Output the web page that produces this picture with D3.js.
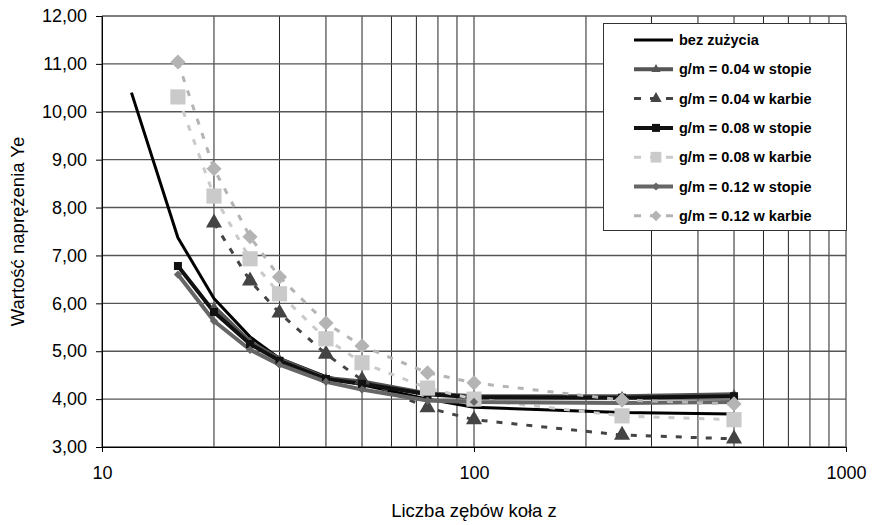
<!DOCTYPE html>
<html>
<head>
<meta charset="utf-8">
<script src="https://cdn.jsdelivr.net/npm/d3@7"></script>
<style>
  body { margin: 0; background: #fff; }
  text { font-family: "Liberation Sans", Arial, sans-serif; }
</style>
</head>
<body>
<svg width="872" height="525"></svg>
<script>
// data
const zAll = [12, 16, 20, 25, 30, 40, 50, 75, 100, 250, 500];
const zFrom16 = [16, 20, 25, 30, 40, 50, 75, 100, 250, 500];
const zFrom20 = [20, 25, 30, 40, 50, 75, 100, 250, 500];

const bezZuzycia = [10.4, 7.37, 6.1, 5.3, 4.85, 4.47, 4.3, 4.0, 3.83, 3.72, 3.69];
const g004stopa = [5.93, 5.2, 4.84, 4.44, 4.37, 4.12, 4.06, 4.06, 4.1];
const g004karb = [7.68, 6.47, 5.8, 4.94, 4.4, 3.82, 3.57, 3.25, 3.17];
const g008stopa = [6.78, 5.82, 5.15, 4.8, 4.42, 4.32, 4.1, 4.04, 4.03, 4.06];
const g008karb = [10.31, 8.24, 6.93, 6.2, 5.26, 4.76, 4.23, 4.0, 3.65, 3.57];
const g012stopa = [6.6, 5.63, 5.03, 4.72, 4.36, 4.2, 3.97, 3.94, 3.92, 3.94];
const g012karb = [11.04, 8.81, 7.39, 6.55, 5.59, 5.11, 4.55, 4.34, 3.98, 3.9];

const yTicks = [3, 4, 5, 6, 7, 8, 9, 10, 11, 12];
const xLabels = [10, 100, 1000];

const series = [
  { name: "bez zużycia", x: zAll, y: bezZuzycia, color: "#000", width: 3, dash: null, marker: null },
  { name: "g/m = 0.04 w stopie", x: zFrom20, y: g004stopa, color: "#555", width: 4, dash: null, marker: "triangle", size: 36 },
  { name: "g/m = 0.04 w karbie", x: zFrom20, y: g004karb, color: "#444", width: 3, dash: "6,9", marker: "triangle", size: 112 },
  { name: "g/m = 0.08 w stopie", x: zFrom16, y: g008stopa, color: "#111", width: 4, dash: null, marker: "square", size: 64 },
  { name: "g/m = 0.08 w karbie", x: zFrom16, y: g008karb, color: "#cacaca", width: 3, dash: "6,9", marker: "square", size: 230 },
  { name: "g/m = 0.12 w stopie", x: zFrom16, y: g012stopa, color: "#666", width: 4, dash: null, marker: "diamond", size: 34 },
  { name: "g/m = 0.12 w karbie", x: zFrom16, y: g012karb, color: "#b4b4b4", width: 3, dash: "6,9", marker: "diamond", size: 115 }
];

const svg = d3.select("svg");
const mLeft = 102, mRight = 846, mTop = 16, mBottom = 447;

const x = d3.scaleLog().domain([10, 1000]).range([mLeft, mRight]);
const y = d3.scaleLinear().domain([3, 12]).range([mBottom, mTop]);

const pl = d3.formatLocale({ decimal: ",", thousands: " ", grouping: [3], currency: ["", " zł"] });
const fmt = pl.format(".2f");

// gridlines
const grid = svg.append("g");
const vTicks = d3.range(1, 11).map(d => d * 10).concat(d3.range(2, 11).map(d => d * 100));
grid.selectAll("line.v").data(vTicks).enter().append("line")
  .attr("x1", d => x(d)).attr("x2", d => x(d))
  .attr("y1", mTop).attr("y2", mBottom)
  .attr("stroke", "#222").attr("stroke-width", 1);
grid.selectAll("line.h").data(yTicks).enter().append("line")
  .attr("x1", mLeft).attr("x2", mRight)
  .attr("y1", d => y(d)).attr("y2", d => y(d))
  .attr("stroke", "#555").attr("stroke-width", 1.4);

// axes
svg.append("g")
  .attr("transform", `translate(${mLeft},0)`)
  .call(d3.axisLeft(y).tickValues(yTicks).tickFormat(fmt).tickSize(6).tickPadding(9))
  .call(g => g.selectAll("text").attr("font-size", 18).attr("fill", "#000"))
  .call(g => g.select(".domain").attr("stroke", "#000"));

svg.append("g")
  .attr("transform", `translate(0,${mBottom})`)
  .call(d3.axisBottom(x).tickValues(xLabels).tickFormat(d3.format("d")).tickSize(5).tickPadding(14))
  .call(g => g.selectAll("text").attr("font-size", 18).attr("fill", "#000"))
  .call(g => g.select(".domain").attr("stroke", "#000"));

// axis titles
svg.append("text")
  .attr("transform", `translate(24,${(mTop + mBottom) / 2}) rotate(-90)`)
  .attr("text-anchor", "middle")
  .attr("font-size", 18.5)
  .text("Wartość naprężenia Ye");

svg.append("text")
  .attr("x", 474).attr("y", 517)
  .attr("text-anchor", "middle")
  .attr("font-size", 18.5)
  .text("Liczba zębów koła z");

// series
const symbolType = { triangle: d3.symbolTriangle, square: d3.symbolSquare, diamond: d3.symbolSquare };
const line = d3.line().x(d => x(d[0])).y(d => y(d[1]));

const plot = svg.append("g");
series.forEach(s => {
  const pts = s.x.map((v, i) => [v, s.y[i]]);
  plot.append("path")
    .attr("d", line(pts))
    .attr("fill", "none")
    .attr("stroke", s.color)
    .attr("stroke-width", s.width)
    .attr("stroke-dasharray", s.dash)
    .attr("stroke-linejoin", "round");
});
series.forEach(s => {
  if (!s.marker) return;
  const pts = s.x.map((v, i) => [v, s.y[i]]);
  const rot = s.marker === "diamond" ? " rotate(45)" : "";
  plot.selectAll(null).data(pts).enter().append("path")
    .attr("transform", d => `translate(${x(d[0])},${y(d[1])})${rot}`)
    .attr("d", d3.symbol().type(symbolType[s.marker]).size(s.size))
    .attr("fill", s.color);
});

// legend
const lg = svg.append("g");
lg.append("rect")
  .attr("x", 603.5).attr("y", 23.5).attr("width", 243).attr("height", 207)
  .attr("fill", "#fff").attr("stroke", "#333");
series.forEach((s, i) => {
  const ly = 40 + i * 29.3;
  const row = lg.append("g");
  row.append("line")
    .attr("x1", 634).attr("x2", 673).attr("y1", ly).attr("y2", ly)
    .attr("stroke", s.color).attr("stroke-width", s.width)
    .attr("stroke-dasharray", s.dash ? "7,9" : null);
  if (s.marker) {
    const rot = s.marker === "diamond" ? " rotate(45)" : "";
    row.append("path")
      .attr("transform", `translate(656,${ly})${rot}`)
      .attr("d", d3.symbol().type(symbolType[s.marker]).size(s.dash ? s.size * 0.5 : s.size))
      .attr("fill", s.color);
  }
  row.append("text")
    .attr("x", 679).attr("y", ly + 5)
    .attr("font-size", 14.5).attr("font-weight", "bold")
    .text(s.name);
});
</script>
</body>
</html>
